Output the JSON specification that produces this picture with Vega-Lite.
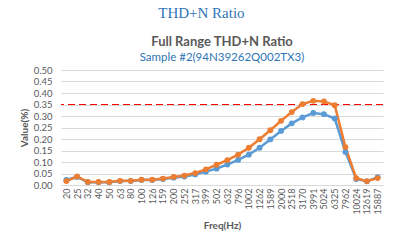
{
  "$schema": "https://vega.github.io/schema/vega-lite/v6.json",
  "padding": {"left": 19, "top": 6, "right": 15, "bottom": 3},
  "background": "white",
  "title": {
    "text": "THD+N Ratio",
    "font": "Liberation Serif",
    "fontSize": 15,
    "fontWeight": "normal",
    "color": "#2E75B6",
    "anchor": "middle",
    "offset": 15
  },
  "datasets": {
    "thd": [
      {"freq": "20", "ch": "Ch1", "value": 0.022}, {"freq": "20", "ch": "Ch2", "value": 0.017},
      {"freq": "25", "ch": "Ch1", "value": 0.035}, {"freq": "25", "ch": "Ch2", "value": 0.037},
      {"freq": "32", "ch": "Ch1", "value": 0.012}, {"freq": "32", "ch": "Ch2", "value": 0.013},
      {"freq": "40", "ch": "Ch1", "value": 0.012}, {"freq": "40", "ch": "Ch2", "value": 0.013},
      {"freq": "50", "ch": "Ch1", "value": 0.012}, {"freq": "50", "ch": "Ch2", "value": 0.013},
      {"freq": "63", "ch": "Ch1", "value": 0.017}, {"freq": "63", "ch": "Ch2", "value": 0.018},
      {"freq": "80", "ch": "Ch1", "value": 0.017}, {"freq": "80", "ch": "Ch2", "value": 0.018},
      {"freq": "100", "ch": "Ch1", "value": 0.022}, {"freq": "100", "ch": "Ch2", "value": 0.023},
      {"freq": "126", "ch": "Ch1", "value": 0.022}, {"freq": "126", "ch": "Ch2", "value": 0.023},
      {"freq": "159", "ch": "Ch1", "value": 0.026}, {"freq": "159", "ch": "Ch2", "value": 0.028},
      {"freq": "200", "ch": "Ch1", "value": 0.032}, {"freq": "200", "ch": "Ch2", "value": 0.035},
      {"freq": "252", "ch": "Ch1", "value": 0.037}, {"freq": "252", "ch": "Ch2", "value": 0.041},
      {"freq": "317", "ch": "Ch1", "value": 0.046}, {"freq": "317", "ch": "Ch2", "value": 0.052},
      {"freq": "399", "ch": "Ch1", "value": 0.058}, {"freq": "399", "ch": "Ch2", "value": 0.068},
      {"freq": "502", "ch": "Ch1", "value": 0.071}, {"freq": "502", "ch": "Ch2", "value": 0.088},
      {"freq": "632", "ch": "Ch1", "value": 0.089}, {"freq": "632", "ch": "Ch2", "value": 0.108},
      {"freq": "796", "ch": "Ch1", "value": 0.109}, {"freq": "796", "ch": "Ch2", "value": 0.132},
      {"freq": "1002", "ch": "Ch1", "value": 0.132}, {"freq": "1002", "ch": "Ch2", "value": 0.162},
      {"freq": "1262", "ch": "Ch1", "value": 0.162}, {"freq": "1262", "ch": "Ch2", "value": 0.199},
      {"freq": "1589", "ch": "Ch1", "value": 0.198}, {"freq": "1589", "ch": "Ch2", "value": 0.238},
      {"freq": "2000", "ch": "Ch1", "value": 0.235}, {"freq": "2000", "ch": "Ch2", "value": 0.279},
      {"freq": "2518", "ch": "Ch1", "value": 0.268}, {"freq": "2518", "ch": "Ch2", "value": 0.317},
      {"freq": "3170", "ch": "Ch1", "value": 0.294}, {"freq": "3170", "ch": "Ch2", "value": 0.352},
      {"freq": "3991", "ch": "Ch1", "value": 0.313}, {"freq": "3991", "ch": "Ch2", "value": 0.366},
      {"freq": "5024", "ch": "Ch1", "value": 0.308}, {"freq": "5024", "ch": "Ch2", "value": 0.363},
      {"freq": "6325", "ch": "Ch1", "value": 0.289}, {"freq": "6325", "ch": "Ch2", "value": 0.347},
      {"freq": "7962", "ch": "Ch1", "value": 0.144}, {"freq": "7962", "ch": "Ch2", "value": 0.165},
      {"freq": "10024", "ch": "Ch1", "value": 0.026}, {"freq": "10024", "ch": "Ch2", "value": 0.030},
      {"freq": "12619", "ch": "Ch1", "value": 0.016}, {"freq": "12619", "ch": "Ch2", "value": 0.017},
      {"freq": "15887", "ch": "Ch1", "value": 0.034}, {"freq": "15887", "ch": "Ch2", "value": 0.030}
    ]
  },
  "vconcat": [
    {
      "width": 322,
      "height": 115,
      "title": {
        "text": "Full Range THD+N Ratio",
        "subtitle": "Sample #2(94N39262Q002TX3)",
        "font": "Lato",
        "fontSize": 13,
        "fontWeight": "bold",
        "color": "#595959",
        "subtitleFont": "Lato",
        "subtitleFontSize": 11.5,
        "subtitleColor": "#2E75B6",
        "subtitlePadding": 3,
        "anchor": "middle",
        "offset": 1.5
      },
      "data": {"name": "thd"},
      "encoding": {
        "y": {
          "type": "quantitative",
          "scale": {"domain": [0, 0.5]},
          "title": "Value(%)",
          "axis": {"values": [0, 0.05, 0.1, 0.15, 0.2, 0.25, 0.3, 0.35, 0.4, 0.45, 0.5], "format": ".2f",
                   "labelOverlap": false, "labelFontSize": 9.5, "labelColor": "#595959", "labelFont": "Lato",
                   "titleFont": "Lato", "titleFontSize": 10, "titleColor": "#595959", "titleFontWeight": "bold",
                   "ticks": false, "domain": false, "grid": true, "gridColor": "#D9D9D9", "gridOpacity": 1,
                   "labelPadding": 9, "titlePadding": 4}
        }
      },
      "layer": [
        {
          "mark": {"type": "rule", "color": "#FF0000", "stroke": "#FF0000", "strokeWidth": 1.2, "strokeDash": [7, 4]},
          "encoding": {"y": {"datum": 0.35}}
        },
        {
          "mark": {"type": "line", "strokeWidth": 2.5, "point": {"filled": true, "size": 34}},
          "encoding": {
            "x": {
              "field": "freq", "type": "ordinal", "sort": null,
              "title": "Freq(Hz)",
              "axis": {"labelAngle": -90, "labelFontSize": 9, "labelColor": "#595959", "labelFont": "Lato",
                       "titleFont": "Lato", "titleFontSize": 10, "titleColor": "#595959", "titleFontWeight": "bold",
                       "ticks": false, "domainColor": "#D9D9D9", "labelPadding": 3, "titlePadding": 6}
            },
            "y": {"field": "value"},
            "color": {"field": "ch", "type": "nominal", "legend": null,
                      "scale": {"domain": ["Ch1", "Ch2"], "range": ["#5B9BD5", "#ED7D31"]}}
          }
        }
      ]
    }
  ],
  "config": {
    "view": {"stroke": null},
    "axisX": {"grid": false}
  }
}
